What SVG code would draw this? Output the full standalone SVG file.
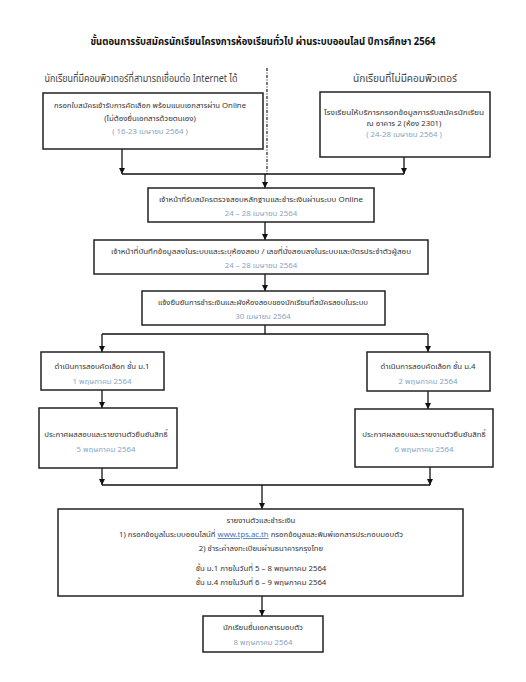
<svg xmlns="http://www.w3.org/2000/svg" width="526" height="682" viewBox="0 0 526 682">
<defs>
<marker id="ah" viewBox="0 0 10 10" refX="10" refY="5" markerWidth="6" markerHeight="6" markerUnits="userSpaceOnUse" orient="auto">
<path d="M0,0 L10,5 L0,10 z" fill="#111"/>
</marker>
<style>
text{font-family:"Noto Sans Thai","Tahoma","Noto Sans","DejaVu Sans",sans-serif;text-anchor:middle;fill:#333;font-size:7.8px}
.title{font-size:10.5px;font-weight:bold;fill:#111}
.hdr{font-size:10.5px;fill:#444}
.d{fill:#8aa4c2}
.box{fill:#fff;stroke:#222;stroke-width:1.5}
.ln{fill:none;stroke:#111;stroke-width:1.3}
.arr{fill:none;stroke:#111;stroke-width:1.3;marker-end:url(#ah)}
.dot{fill:none;stroke:#333;stroke-width:1.3;stroke-dasharray:3 1.5 1 1.5}
</style>
</defs>
<rect width="526" height="682" fill="#fff"/>
<text class="title" x="263" y="45" textLength="345" lengthAdjust="spacingAndGlyphs">ขั้นตอนการรับสมัครนักเรียนโครงการห้องเรียนทั่วไป ผ่านระบบออนไลน์ ปีการศึกษา 2564</text>
<text class="hdr" x="141" y="82" textLength="193" lengthAdjust="spacingAndGlyphs">นักเรียนที่มีคอมพิวเตอร์ที่สามารถเชื่อมต่อ Internet ได้</text>
<text class="hdr" x="405" y="82" textLength="104" lengthAdjust="spacingAndGlyphs">นักเรียนที่ไม่มีคอมพิวเตอร์</text>

<g id="connectors">
<path class="dot" d="M267,68 V174"/>
<path class="arr" d="M122,149 V174"/>
<path class="arr" d="M404,157 V174"/>
<path class="ln" d="M122,174 H404"/>
<path class="arr" d="M265,174 V188"/>
<path class="arr" d="M265,222 V240"/>
<path class="arr" d="M265,274 V291"/>
<path class="ln" d="M265,325 V334 M102,334 H428"/>
<path class="arr" d="M102,334 V352"/>
<path class="arr" d="M428,334 V352"/>
<path class="arr" d="M102,390 V408"/>
<path class="arr" d="M428,391 V409"/>
<path class="arr" d="M102,468 V485"/>
<path class="arr" d="M430,467 V485"/>
<path class="ln" d="M102,485 H430"/>
<path class="arr" d="M262,485 V509"/>
<path class="arr" d="M262,596 V616"/>
</g>

<g id="n1L">
<rect class="box" x="43" y="93" width="220" height="56"/>
<text x="150" y="108" textLength="192" lengthAdjust="spacingAndGlyphs">กรอกใบสมัครเข้ารับการคัดเลือก พร้อมแนบเอกสารผ่าน Online</text>
<text x="150" y="121">(ไม่ต้องยื่นเอกสารด้วยตนเอง)</text>
<text class="d" x="150" y="134">( 16-23 เมษายน 2564 )</text>
</g>
<g id="n1R">
<rect class="box" x="320" y="92" width="170" height="65"/>
<text x="404" y="115" textLength="160" lengthAdjust="spacingAndGlyphs">โรงเรียนให้บริการกรอกข้อมูลการรับสมัครนักเรียน</text>
<text x="404" y="126">ณ อาคาร 2 (ห้อง 2301)</text>
<text class="d" x="404" y="137">( 24-28 เมษายน 2564 )</text>
</g>
<g id="n2">
<rect class="box" x="148" y="188" width="226" height="34"/>
<text x="261" y="202" textLength="204" lengthAdjust="spacingAndGlyphs">เจ้าหน้าที่รับสมัครตรวจสอบหลักฐานและชำระเงินผ่านระบบ Online</text>
<text class="d" x="261" y="216">24 – 28 เมษายน 2564</text>
</g>
<g id="n3">
<rect class="box" x="94" y="240" width="334" height="34"/>
<text x="261" y="254" textLength="300" lengthAdjust="spacingAndGlyphs">เจ้าหน้าที่บันทึกข้อมูลลงในระบบและระบุห้องสอบ / เลขที่นั่งสอบลงในระบบและบัตรประจำตัวผู้สอบ</text>
<text class="d" x="261" y="268">24 – 28 เมษายน 2564</text>
</g>
<g id="n4">
<rect class="box" x="142" y="291" width="243" height="34"/>
<text x="263" y="305" textLength="210" lengthAdjust="spacingAndGlyphs">แจ้งยืนยันการชำระเงินและผังห้องสอบของนักเรียนที่สมัครสอบในระบบ</text>
<text class="d" x="263" y="319">30 เมษายน 2564</text>
</g>
<g id="n5L">
<rect class="box" x="41" y="352" width="123" height="38"/>
<text x="102" y="369">ดำเนินการสอบคัดเลือก ชั้น ม.1</text>
<text class="d" x="102" y="384">1 พฤษภาคม 2564</text>
</g>
<g id="n5R">
<rect class="box" x="367" y="352" width="123" height="39"/>
<text x="428" y="369">ดำเนินการสอบคัดเลือก ชั้น ม.4</text>
<text class="d" x="428" y="384">2 พฤษภาคม 2564</text>
</g>
<g id="n6L">
<rect class="box" x="39" y="408" width="138" height="60"/>
<text x="106" y="437">ประกาศผลสอบและรายงานตัวยืนยันสิทธิ์</text>
<text class="d" x="106" y="452">5 พฤษภาคม 2564</text>
</g>
<g id="n6R">
<rect class="box" x="355" y="409" width="138" height="58"/>
<text x="424" y="437">ประกาศผลสอบและรายงานตัวยืนยันสิทธิ์</text>
<text class="d" x="424" y="452">6 พฤษภาคม 2564</text>
</g>
<g id="n7">
<rect class="box" x="58" y="509" width="405" height="87"/>
<text x="261" y="523">รายงานตัวและชำระเงิน</text>
<text x="261" y="537" textLength="284" lengthAdjust="spacingAndGlyphs">1) กรอกข้อมูลในระบบออนไลน์ที่ <tspan fill="#3b6fb5" text-decoration="underline">www.tps.ac.th</tspan> กรอกข้อมูลและพิมพ์เอกสารประกอบมอบตัว</text>
<text x="261" y="551">2) ชำระค่าลงทะเบียนผ่านธนาคารกรุงไทย</text>
<text x="261" y="571">ชั้น ม.1  ภายในวันที่ 5 – 8 พฤษภาคม 2564</text>
<text x="261" y="585">ชั้น ม.4  ภายในวันที่ 6 – 9 พฤษภาคม 2564</text>
</g>
<g id="n8">
<rect class="box" x="203" y="616" width="120" height="36"/>
<text x="263" y="630">นักเรียนยื่นเอกสารมอบตัว</text>
<text class="d" x="263" y="645">8 พฤษภาคม 2564</text>
</g>
</svg>
